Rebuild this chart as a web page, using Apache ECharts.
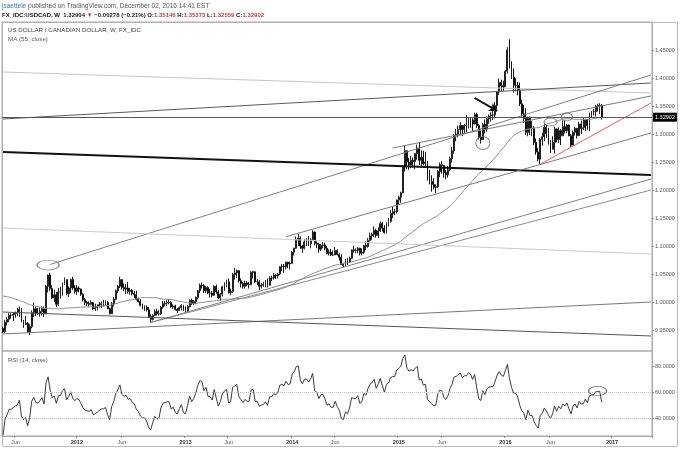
<!DOCTYPE html>
<html><head><meta charset="utf-8">
<script src="https://cdn.jsdelivr.net/npm/echarts@6/dist/echarts.min.js"></script>
<style>html,body{margin:0;padding:0;background:#fff}#c{width:680px;height:449px}</style>
</head><body><div id="c"></div>
<script>
// ---------- DATA ----------
const firstWeek = '2011-04-25';   // Monday of first weekly bar
const totalWeeks = 317;           // weekly slots on the time axis (incl. empty future)
// weekly closes before the first visible bar (warm-up for MA 55 / RSI 14), Mar 2010 - Apr 2011
const preCloses = [1.030,1.022,1.019,1.020,1.006,1.004,1.003,1.002,1.015,1.045,1.028,1.063,1.050,
1.056,1.035,1.023,1.037,1.050,1.035,1.047,1.033,1.029,1.016,1.038,1.040,1.053,1.035,1.030,1.030,1.030,
1.018,1.012,1.007,1.020,1.020,1.004,1.010,1.016,1.020,1.012,1.013,1.009,1.008,0.996,
0.991,0.990,0.997,1.002,0.990,0.992,0.982,0.974,0.970,0.974,0.980,0.975,0.966,0.960,0.960,0.953];
// weekly bars [high, low, close]; open = previous close
const w2011 = [[.956,.945,.947],[.968,.945,.964],[.973,.958,.969],[.980,.964,.976],[.980,.970,.976],
[.981,.966,.978],[.983,.972,.980],[.990,.975,.981],[.992,.973,.987],[.989,.964,.965],[.968,.954,.960],
[.975,.959,.962],[.964,.945,.947],[.960,.941,.956],[.985,.953,.981],[.999,.973,.988],[.992,.975,.980],
[.990,.977,.979],[.990,.974,.983],[.992,.976,.988],[.992,.973,.979],[1.030,.979,1.028],[1.049,1.017,1.048],
[1.0525,1.020,1.024],[1.030,1.005,1.007],[1.022,1.000,1.013],[1.018,.991,.996],[1.025,.993,1.018],
[1.027,1.006,1.018],[1.035,1.011,1.033],[1.044,1.030,1.040],[1.040,1.012,1.015],[1.028,1.009,1.025],
[1.042,1.016,1.040],[1.045,1.022,1.025],[1.030,1.015,1.019]];
const w2012 = [[1.030,1.013,1.025],[1.028,1.017,1.023],[1.024,1.011,1.014],[1.016,1.001,1.004],
[1.007,.994,.999],[1.002,.993,.997],[1.001,.992,.996],[1.003,.994,.999],[1.000,.986,.988],[.997,.984,.990],
[.996,.985,.992],[1.000,.990,.995],[1.001,.989,.997],[1.004,.992,.997],[1.003,.993,.999],[1.002,.987,.988],
[.990,.978,.979],[1.000,.982,.997],[1.009,.992,1.005],[1.022,1.003,1.020],[1.030,1.016,1.028],[1.045,1.025,1.040],
[1.040,1.022,1.026],[1.033,1.019,1.023],[1.032,1.014,1.025],[1.036,1.015,1.019],[1.025,1.013,1.021],
[1.023,1.012,1.015],[1.020,1.007,1.013],[1.020,1.003,1.005],[1.008,.999,1.001],[1.005,.992,.994],
[.997,.987,.991],[.994,.984,.991],[.994,.983,.986],[.991,.972,.974],[.978,.963,.969],[.978,.967,.976],
[.987,.975,.983],[.988,.976,.979],[.986,.976,.979],[.993,.977,.991],[1.002,.988,.997],[1.002,.992,.998],
[1.003,.993,.999],[1.005,.996,.999],[1.001,.990,.991],[.996,.988,.993],[.995,.985,.987],[.989,.981,.985],
[.992,.984,.990],[.996,.985,.994]];
const w2013 = [[.995,.984,.985],[.992,.981,.984],[.995,.982,.992],[1.005,.990,1.003],[1.006,.995,.997],
[1.004,.995,1.001],[1.010,.996,1.008],[1.022,1.005,1.020],[1.033,1.016,1.030],[1.035,1.024,1.029],
[1.032,1.016,1.020],[1.029,1.016,1.026],[1.028,1.014,1.016],[1.023,1.008,1.016],[1.020,1.008,1.012],
[1.030,1.011,1.028],[1.031,1.015,1.018],[1.021,1.005,1.007],[1.016,1.002,1.014],[1.029,1.010,1.027],
[1.035,1.020,1.032],[1.040,1.026,1.036],[1.042,1.015,1.017],[1.024,1.012,1.019],[1.052,1.016,1.049],
[1.061,1.040,1.052],[1.058,1.043,1.056],[1.057,1.035,1.038],[1.042,1.026,1.033],[1.036,1.024,1.028],
[1.038,1.024,1.034],[1.037,1.028,1.031],[1.036,1.024,1.031],[1.055,1.030,1.053],[1.056,1.042,1.054],
[1.055,1.034,1.036],[1.041,1.030,1.036],[1.039,1.021,1.028],[1.034,1.024,1.030],[1.036,1.027,1.031],
[1.039,1.026,1.035],[1.042,1.026,1.030],[1.046,1.029,1.043],[1.047,1.037,1.043],[1.052,1.040,1.048],
[1.050,1.041,1.047],[1.052,1.042,1.050],[1.064,1.048,1.063],[1.068,1.055,1.064],[1.068,1.052,1.063],
[1.072,1.058,1.071],[1.072,1.060,1.068]];
const w2014 = [[1.072,1.058,1.069],[1.091,1.068,1.089],[1.097,1.083,1.096],[1.117,1.095,1.111],
[1.122,1.100,1.114],[1.117,1.095,1.100],[1.102,1.088,1.096],[1.112,1.094,1.107],[1.114,1.100,1.107],
[1.118,1.100,1.104],[1.114,1.096,1.111],[1.128,1.109,1.125],[1.126,1.101,1.105],[1.108,1.096,1.103],
[1.105,1.088,1.094],[1.104,1.091,1.101],[1.107,1.096,1.102],[1.106,1.092,1.096],[1.100,1.085,1.087],
[1.094,1.083,1.089],[1.095,1.082,1.084],[1.092,1.082,1.084],[1.098,1.084,1.092],[1.094,1.083,1.085],
[1.087,1.074,1.080],[1.085,1.066,1.067],[1.069,1.062,1.065],[1.077,1.063,1.074],[1.078,1.066,1.071],
[1.081,1.071,1.078],[1.094,1.077,1.093],[1.100,1.088,1.092],[1.096,1.087,1.092],[1.098,1.087,1.096],
[1.097,1.083,1.087],[1.096,1.083,1.089],[1.102,1.086,1.101],[1.108,1.093,1.099],[1.114,1.097,1.110],
[1.124,1.108,1.118],[1.124,1.111,1.121],[1.135,1.116,1.128],[1.131,1.115,1.119],[1.133,1.114,1.127],
[1.144,1.125,1.140],[1.143,1.126,1.132],[1.137,1.122,1.124],[1.142,1.122,1.141],[1.150,1.135,1.144],
[1.164,1.142,1.158],[1.170,1.150,1.161],[1.166,1.155,1.161]];
const w2015 = [[1.183,1.158,1.182],[1.190,1.174,1.187],[1.197,1.177,1.195],[1.244,1.194,1.241],
[1.279,1.233,1.270],[1.271,1.237,1.250],[1.257,1.236,1.245],[1.261,1.239,1.253],[1.258,1.240,1.251],
[1.265,1.237,1.265],[1.281,1.254,1.275],[1.284,1.245,1.253],[1.271,1.242,1.258],[1.270,1.244,1.247],
[1.268,1.240,1.250],[1.252,1.217,1.220],[1.236,1.210,1.215],[1.226,1.197,1.210],[1.221,1.201,1.205],
[1.210,1.194,1.206],[1.236,1.203,1.233],[1.249,1.223,1.245],[1.251,1.229,1.244],[1.244,1.222,1.231],
[1.236,1.219,1.227],[1.243,1.222,1.236],[1.260,1.234,1.256],[1.277,1.249,1.270],[1.300,1.265,1.298],
[1.309,1.287,1.300],[1.315,1.294,1.308],[1.321,1.300,1.315],[1.316,1.296,1.308],[1.318,1.301,1.315],
[1.334,1.303,1.315],[1.329,1.310,1.327],[1.330,1.311,1.325],[1.328,1.304,1.318],[1.338,1.317,1.335],
[1.338,1.311,1.315],[1.318,1.290,1.294],[1.306,1.283,1.290],[1.320,1.289,1.317],[1.326,1.301,1.309],
[1.331,1.304,1.327],[1.335,1.318,1.332],[1.339,1.322,1.334],[1.341,1.325,1.334],[1.357,1.328,1.351],
[1.377,1.344,1.375],[1.399,1.370,1.392],[1.397,1.377,1.386]];
const w2016 = [[1.395,1.377,1.384],[1.414,1.384,1.412],[1.455,1.408,1.450],[1.469,1.417,1.423],
[1.430,1.398,1.401],[1.417,1.374,1.387],[1.400,1.376,1.387],[1.393,1.369,1.377],[1.392,1.350,1.354],
[1.361,1.331,1.336],[1.352,1.320,1.328],[1.346,1.298,1.303],[1.331,1.296,1.330],[1.331,1.298,1.310],
[1.323,1.296,1.310],[1.314,1.280,1.285],[1.292,1.263,1.268],[1.275,1.251,1.255],[1.293,1.246,1.290],
[1.302,1.279,1.295],[1.319,1.287,1.312],[1.316,1.293,1.301],[1.311,1.281,1.285],[1.289,1.266,1.273],
[1.296,1.272,1.285],[1.313,1.265,1.309],[1.310,1.285,1.290],[1.312,1.284,1.306],[1.309,1.280,1.297],
[1.324,1.296,1.313],[1.325,1.301,1.306],[1.318,1.302,1.316],[1.317,1.296,1.297],[1.300,1.277,1.280],
[1.306,1.284,1.303],[1.313,1.297,1.310],[1.310,1.292,1.297],[1.322,1.297,1.318],[1.324,1.300,1.310],
[1.329,1.307,1.311],[1.327,1.305,1.325],[1.327,1.308,1.315],[1.338,1.305,1.338],[1.341,1.330,1.340],
[1.345,1.333,1.340],[1.352,1.331,1.350],[1.354,1.340,1.351],[1.355,1.336,1.35146],[1.35373,1.32559,1.32902]];
const lastPrice = 1.32902;
const priceTicks = [0.95,1.00,1.05,1.10,1.15,1.20,1.25,1.30,1.35,1.40,1.45];
const rsiTicks = [40,60,80];
const rsiBands = [60,40];
// drawn trend lines: [startWeekIndex, startPrice, endWeekIndex, endPrice]
const trendLines = [
  [0,1.4107,316,1.3732],[0,1.3268,316,1.3911],[23,1.0670,316,1.4054],[190,1.275,316,1.3679],
  [262,1.246,316,1.3554],[0,1.2679,316,1.2268],[138,1.1166,316,1.3018],[72,0.9634,316,1.2196],
  [72,0.9634,316,1.2000],[0,1.1321,316,1.0857],[0,0.9429,316,1.0000],[0,0.9821,316,0.9393]];
// ellipse annotations on price: [weekIndex, price]
const priceMarks = [[22,1.066],[234,1.2839],[267,1.3214],[275,1.3304]];
const rsiMarks = [[290,60.8]];
const arrowPts = [[230,1.3643],[241,1.3411]];

// ---------- BUILD ----------
const FONT = "'Liberation Sans', Arial, Helvetica, sans-serif";
const cats = [];
const d0 = Date.parse(firstWeek + 'T00:00:00Z');
for (let i = 0; i < totalWeeks; i++) cats.push(new Date(d0 + i * 7 * 86400000).toISOString().slice(0, 10));
const highs = [], lows = [], closes = [];
[w2011, w2012, w2013, w2014, w2015, w2016].forEach(y => y.forEach(r => { highs.push(r[0]); lows.push(r[1]); closes.push(r[2]); }));
const candles = closes.map((c, i) => {
  const o = i === 0 ? preCloses[preCloses.length - 1] : closes[i - 1];
  return [o, c, Math.min(lows[i], o, c), Math.max(highs[i], o, c)];
});
const all = preCloses.concat(closes), P = preCloses.length;
const ma = closes.map((_, i) => { let s = 0; for (let k = 0; k < 55; k++) s += all[P + i - k]; return +(s / 55).toFixed(5); });
let ag = 0, al = 0; const rsiAll = [];
for (let j = 1; j < all.length; j++) {
  const ch = all[j] - all[j - 1], g = Math.max(ch, 0), l = Math.max(-ch, 0);
  if (j <= 14) { ag += g / 14; al += l / 14; if (j === 14) rsiAll[j] = 100 - 100 / (1 + ag / al); }
  else { ag = (ag * 13 + g) / 14; al = (al * 13 + l) / 14; rsiAll[j] = al === 0 ? 100 : 100 - 100 / (1 + ag / al); }
}
const rsi = closes.map((_, i) => +rsiAll[P + i].toFixed(3));

const isLabelWeek = v => { const m = +v.slice(5, 7), d = +v.slice(8, 10); return (m === 1 || m === 6) && d <= 7; };
const fmtX = v => (+v.slice(5, 7) === 1 ? '{y|' + v.slice(0, 4) + '}' : 'Jun');

const lineStyles = [
  {color:'#c4c4c4',width:1},{color:'#5a5a5a',width:1},{color:'#808080',width:1},{color:'#7a7a7a',width:1},
  {color:'#f05a5a',width:1},{color:'#111',width:1.8},{color:'#7a7a7a',width:1},{color:'#808080',width:1},
  {color:'#8a8a8a',width:1},{color:'#c8c8c8',width:1},{color:'#777',width:1},{color:'#555',width:1}];
const markSizes = [[22,10],[14,13],[13,8],[11,8]];

const series = [];
series.push({
  type:'candlestick', xAxisIndex:0, yAxisIndex:0, data:candles, z:2, barWidth:1.4,
  itemStyle:{color:'#3a3a3a', color0:'#111', borderColor:'#222', borderColor0:'#111', borderWidth:1},
  markLine:{silent:true, symbol:'none', animation:false,
    lineStyle:{color:'#555', width:1, type:'solid'},
    label:{show:true, position:'end', formatter:lastPrice.toFixed(5), color:'#fff', backgroundColor:'#000',
      fontSize:5.5, fontFamily:FONT, padding:[2,2,1,2], distance:1},
    data:[{yAxis:lastPrice}]}
});
series.push({
  type:'line', xAxisIndex:0, yAxisIndex:0, data:ma, showSymbol:false, z:3,
  lineStyle:{color:'#8c8c8c', width:1},
  markLine:{silent:true, animation:false, label:{show:false},
    data:[[{coord:[cats[arrowPts[0][0]], arrowPts[0][1]], symbol:'none', lineStyle:{color:'#111', width:2, type:'solid'}},
           {coord:[cats[arrowPts[1][0]], arrowPts[1][1]], symbol:'arrow', symbolSize:[7,8]}]]}
});
trendLines.forEach((t, k) => series.push({
  type:'line', xAxisIndex:0, yAxisIndex:0, data:[[t[0], t[1]], [t[2], t[3]]], showSymbol:false, z:4,
  silent:true, lineStyle:lineStyles[k]
}));
priceMarks.forEach((m, k) => series.push({
  type:'scatter', xAxisIndex:0, yAxisIndex:0, data:[m], symbol:'circle', symbolSize:markSizes[k], z:5, silent:true,
  itemStyle:{color:'rgba(0,0,0,0)', borderColor:'#707070', borderWidth:1}
}));
series.push({
  type:'line', xAxisIndex:1, yAxisIndex:1, data:rsi, showSymbol:false, z:3,
  lineStyle:{color:'#3a3a3a', width:1},
  markLine:{silent:true, symbol:'none', animation:false, label:{show:false},
    lineStyle:{color:'#bdbdbd', width:1, type:'dotted'}, data:rsiBands.map(v => ({yAxis:v}))}
});
series.push({
  type:'scatter', xAxisIndex:1, yAxisIndex:1, data:rsiMarks, symbol:'circle', symbolSize:[18,9], z:5, silent:true,
  itemStyle:{color:'rgba(0,0,0,0)', borderColor:'#555', borderWidth:1}
});

const axisLbl = {fontSize:5.5, color:'#555', fontFamily:FONT};
const option = {
  animation:false,
  textStyle:{fontFamily:FONT},
  title:{left:2, top:1, padding:0,
    text:'{u|jsaettele}{g| published on TradingView.com, December 02, 2016 14:41 EST}\n' +
         '{k|FX_IDC:USDCAD, W}{n|  1.32904 }{r|▼}{n| \u22120.00278 (\u22120.21%) }{k|O:}{r|1.35146 }{k|H:}{r|1.35373 }{k|L:}{r|1.32559 }{k|C:}{r|1.32902}',
    textStyle:{fontSize:6.5, fontWeight:'normal', fontFamily:FONT, rich:{
      u:{color:'#2f7bbf', fontSize:6.5, fontWeight:'normal', lineHeight:10, fontFamily:FONT},
      g:{color:'#555', fontSize:6.5, fontWeight:'normal', lineHeight:10, fontFamily:FONT},
      k:{color:'#111', fontWeight:'bold', fontSize:6, lineHeight:9, fontFamily:FONT},
      n:{color:'#222', fontWeight:'bold', fontSize:6, lineHeight:9, fontFamily:FONT},
      r:{color:'#d23a3a', fontWeight:'bold', fontSize:6, lineHeight:9, fontFamily:FONT}}}},
  grid:[
    {left:2, top:22, width:650, height:329, show:true, borderColor:'#aaa', borderWidth:1, containLabel:false, outerBoundsMode:'none'},
    {left:2, top:351, width:650, height:85, show:true, borderColor:'#aaa', borderWidth:1, containLabel:false, outerBoundsMode:'none'}],
  xAxis:[
    {type:'category', gridIndex:0, data:cats, boundaryGap:true, show:false},
    {type:'category', gridIndex:1, data:cats, boundaryGap:true,
      axisLine:{show:true, lineStyle:{color:'#aaa'}},
      axisTick:{show:true, interval:(i, v) => isLabelWeek(v), length:2, lineStyle:{color:'#888'}},
      axisLabel:Object.assign({interval:(i, v) => isLabelWeek(v), formatter:fmtX, margin:3, hideOverlap:false,
        rich:{y:{fontWeight:'bold', fontSize:5.5, color:'#333', fontFamily:FONT}}}, axisLbl),
      splitLine:{show:false}}],
  yAxis:[
    {type:'value', gridIndex:0, position:'right', min:0.9125, max:1.5, splitLine:{show:false},
      axisLine:{show:true, lineStyle:{color:'#aaa'}},
      axisTick:{show:true, customValues:priceTicks, length:2, lineStyle:{color:'#888'}},
      axisLabel:Object.assign({customValues:priceTicks, formatter:v => v.toFixed(5), margin:3}, axisLbl)},
    {type:'value', gridIndex:1, position:'right', min:26.15, max:91.54, splitLine:{show:false},
      axisLine:{show:true, lineStyle:{color:'#aaa'}},
      axisTick:{show:true, customValues:rsiTicks, length:2, lineStyle:{color:'#888'}},
      axisLabel:Object.assign({customValues:rsiTicks, formatter:v => v.toFixed(4), margin:3}, axisLbl)}],
  graphic:[
    {type:'rect', silent:true, z:-1, shape:{x:2.5, y:22.5, width:675, height:424}, style:{fill:'none', stroke:'#bbb', lineWidth:1}},
    {type:'text', silent:true, left:8, top:27, style:{text:'US DOLLAR / CANADIAN DOLLAR, W, FX_IDC', fill:'#444', font:'6.2px ' + FONT}},
    {type:'text', silent:true, left:8, top:36, style:{text:'MA (55, close)', fill:'#555', font:'6.2px ' + FONT}},
    {type:'text', silent:true, left:8, top:357, style:{text:'RSI (14, close)', fill:'#555', font:'6px ' + FONT}}],
  series:series
};
const chart = echarts.init(document.getElementById('c'), null, {renderer:'canvas', width:680, height:449});
chart.setOption(option);
</script>
</body></html>
